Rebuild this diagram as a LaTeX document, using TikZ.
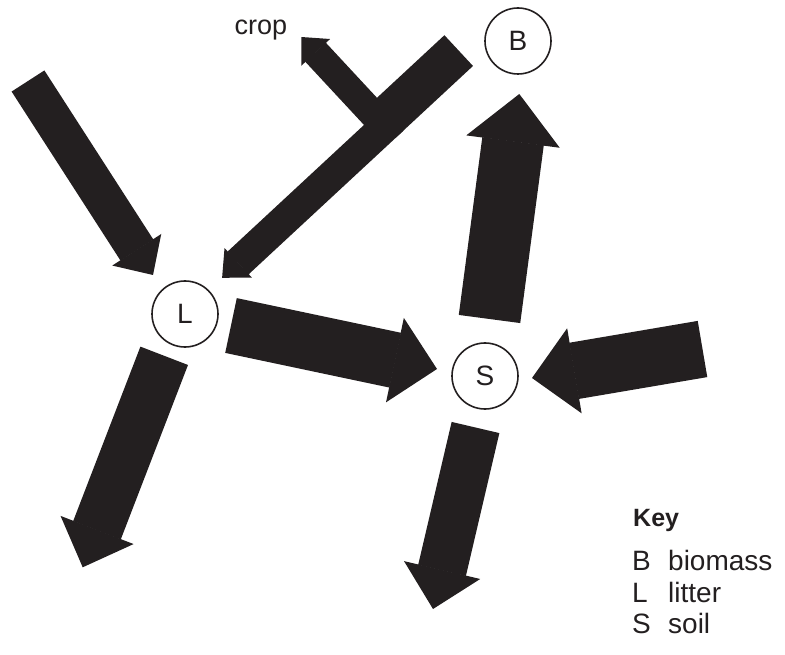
\documentclass[tikz,border=0pt]{standalone}
\usepackage{fontspec}
\setmainfont{Liberation Sans}
\usetikzlibrary{arrows.meta}
\definecolor{ink}{RGB}{35,31,32}

\begin{document}
\begin{tikzpicture}[
        x=1pt, y=-1pt,
        pool/.style={draw=ink, circle, line width=1.6pt, minimum size=66pt, inner sep=0pt, text=ink, font=\fontsize{28}{32}\selectfont},
        flow/.style n args={3}{draw=ink, line width=#1, -{Triangle[width=#2, length=#3, line width=1.5pt]}},
        band/.style={draw=ink, line width=#1},
        keytext/.style={anchor=base west, inner sep=0pt, text=ink, font=\fontsize{28}{32}\selectfont}
    ]
    \useasboundingbox (0,0) rectangle (785,655);

    % Nodes
    \node [pool] (B) at (518,41) {B};
    \node [pool] (L) at (185,314) {L};
    \node [pool] (S) at (485,376) {S};

    % Flow ends
    \coordinate (inL) at (28,81);
    \coordinate (tipLa) at (153,275);
    \coordinate (fromB) at (458.7,50.6);
    \coordinate (split) at (381.8,122.0);
    \coordinate (splitlow) at (392.9,119.3);
    \coordinate (tipLb) at (222.1,277.8);
    \coordinate (cropbase) at (385.1,127.1);
    \coordinate (croptip) at (301.4,37.0);
    \coordinate (fromS) at (489.5,319);
    \coordinate (tipB) at (519.3,94);
    \coordinate (fromL) at (231,325.5);
    \coordinate (tipSa) at (437,369);
    \coordinate (inS) at (702.5,349);
    \coordinate (tipSb) at (532,378);
    \coordinate (outS) at (475.5,427.5);
    \coordinate (tipSout) at (433,609);
    \coordinate (outL) at (164.2,355.8);
    \coordinate (tipLout) at (82.7,567.3);

    % Arrows
    \draw [flow={39pt}{58pt}{30pt}] (inL) -- (tipLa);
    \draw [band=42pt] (fromB) -- (split);
    \draw [flow={31pt}{40pt}{22pt}] (splitlow) -- (tipLb);
    \draw [flow={28pt}{39pt}{21pt}] (cropbase) -- (croptip);
    \draw [flow={62pt}{94pt}{48pt}] (fromS) -- (tipB);
    \draw [flow={56pt}{86pt}{43pt}] (fromL) -- (tipSa);
    \draw [flow={57pt}{86pt}{43pt}] (inS) -- (tipSb);
    \draw [flow={49pt}{78pt}{40pt}] (outS) -- (tipSout);
    \draw [flow={51pt}{78pt}{40pt}] (outL) -- (tipLout);

    % Labels
    \node [keytext, font=\fontsize{27}{32}\selectfont] (crop) at (234.5,35) {crop};
    \node [keytext, font=\bfseries\fontsize{25}{30}\selectfont] (key) at (633,526.7) {Key};
    \node [keytext] (kB) at (632,570.5) {B};
    \node [keytext] (kL) at (632,602) {L};
    \node [keytext] (kS) at (632,633.5) {S};
    \node [keytext] (biomass) at (668,570.5) {biomass};
    \node [keytext] (litter) at (668,602) {litter};
    \node [keytext] (soil) at (668,633.5) {soil};

\end{tikzpicture}
\end{document}
